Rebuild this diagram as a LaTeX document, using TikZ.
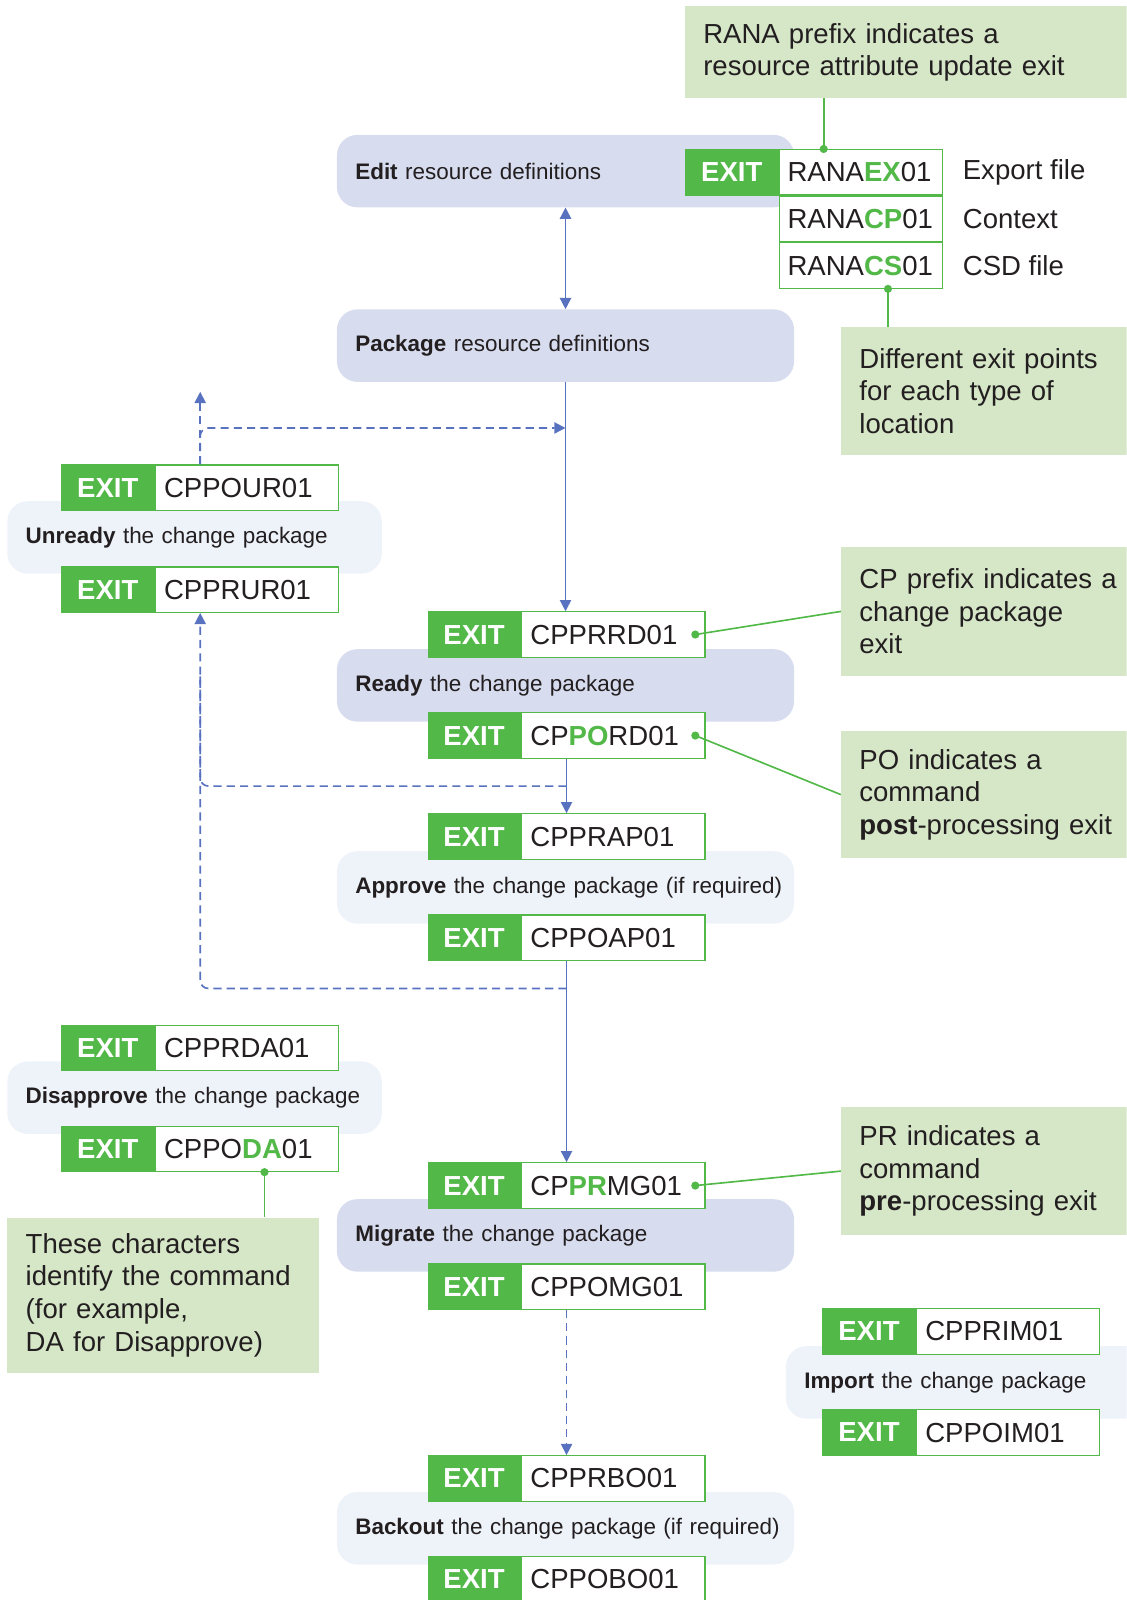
\documentclass[tikz,border=0pt]{standalone}
\usepackage{fontspec}
\setmainfont{Liberation Sans}
\usetikzlibrary{arrows.meta,calc}
\definecolor{exg}{HTML}{52B848}
\definecolor{ng}{HTML}{D6E7C8}
\definecolor{lav}{HTML}{D7DCEE}
\definecolor{lite}{HTML}{EEF2F9}
\definecolor{fb}{HTML}{5872C0}
\definecolor{txt}{HTML}{231F20}
\newcommand\hl[1]{\textcolor{exg}{\bfseries #1}}
\newcommand\exitpair[4]{%
  \node[exitg] (#1E) at (#2,#3) {EXIT};
  \node[exitl] (#1) at (#1E.north east) {#4};
  \coordinate (#1T) at ($(#1E.north west)!.5!(#1.north east)$);
  \coordinate (#1B) at ($(#1E.south west)!.5!(#1.south east)$);
}
\begin{document}
\begin{tikzpicture}[x=1pt,y=-1pt,
  exitg/.style={fill=exg, draw=exg, line width=1.2pt, text=white,
    font=\fontsize{27}{32}\selectfont\bfseries, minimum width=90pt,
    minimum height=44.5pt, inner sep=0pt, anchor=north west},
  exitl/.style={fill=white, draw=exg, line width=1.2pt, text=txt,
    font=\fontsize{27}{32}\selectfont, text width=162pt, inner xsep=9pt,
    inner ysep=0pt, minimum height=44.5pt, align=left, anchor=north west},
  proc/.style={rounded corners=20pt, text=txt, font=\fontsize{22}{26}\selectfont,
    minimum height=71pt, inner xsep=18pt, inner ysep=0pt, align=left,
    anchor=north west, text width=412pt},
  note/.style={fill=ng, text=txt, font=\fontsize{27}{32}\selectfont,
    inner xsep=18pt, inner ysep=0pt, align=left, anchor=north west},
  side/.style={text=txt, font=\fontsize{27}{32}\selectfont, inner sep=0pt, anchor=west},
  flow/.style={draw=fb, line width=1.6pt, arrows={-Triangle[width=11pt,length=11pt]}},
  dflow/.style={draw=fb, line width=1.6pt, dash pattern=on 8pt off 5pt,
    arrows={-Triangle[width=11pt,length=11pt]}},
  plainflow/.style={draw=fb, line width=1.6pt, dash pattern=on 8pt off 5pt},
  gline/.style={draw=exg, line width=1.6pt},
  gdot/.style={fill=exg}
]
\useasboundingbox (0,0) rectangle (1104,1568);
\clip (0,0) rectangle (1104,1568);

% notes
\node[note, text width=417pt, minimum height=90pt] (nTop) at (671,6)
  {RANA prefix indicates a\\resource attribute update exit};
\node[note, text width=264pt, minimum height=126pt] (n2) at (824,320)
  {Different exit points\\for each type of\\location};
\node[note, text width=264pt, minimum height=126pt] (nCP) at (824,536)
  {CP prefix indicates a\\change package\\exit};
\node[note, text width=264pt, minimum height=125pt] (nPO) at (824,716)
  {PO indicates a\\command\\\textbf{post}-processing exit};
\node[note, text width=264pt, minimum height=125pt] (nPR) at (824,1085)
  {PR indicates a\\command\\\textbf{pre}-processing exit};
\node[note, text width=269pt, minimum height=152pt] (nDA) at (7,1193)
  {These characters\\identify the command\\(for example,\\DA for Disapprove)};

% process boxes
\node[proc, fill=lav] (edit) at (330,132) {\mbox{\textbf{Edit} resource definitions}};
\node[proc, fill=lav] (pkg) at (330,303) {\mbox{\textbf{Package} resource definitions}};
\node[proc, fill=lite, text width=331pt] (unready) at (7,491) {\mbox{\textbf{Unready} the change package}};
\node[proc, fill=lav] (ready) at (330,636) {\mbox{\textbf{Ready} the change package}};
\node[proc, fill=lite] (approve) at (330,834) {\mbox{\textbf{Approve} the change package (if required)}};
\node[proc, fill=lite, text width=331pt] (disapprove) at (7,1040) {\mbox{\textbf{Disapprove} the change package}};
\node[proc, fill=lav] (migrate) at (330,1175) {\mbox{\textbf{Migrate} the change package}};
\node[proc, fill=lite, text width=324pt] (imp) at (770,1319) {\mbox{\textbf{Import} the change package}};
\node[proc, fill=lite] (backout) at (330,1462) {\mbox{\textbf{Backout} the change package (if required)}};

% RANA table
\node[exitg, minimum width=91pt] (exE) at (671,146) {EXIT};
\node[exitl, text width=144pt, inner xsep=8pt] (ex) at (exE.north east) {RANA\hl{EX}01};
\node[exitl, text width=144pt, inner xsep=8pt] (cp) at (ex.south west) {RANA\hl{CP}01};
\node[exitl, text width=144pt, inner xsep=8pt] (cs) at (cp.south west) {RANA\hl{CS}01};
\node[side] (lex) at ($(ex.east)+(19,0)$) {Export file};
\node[side] (lcp) at ($(cp.east)+(19,0)$) {Context};
\node[side] (lcs) at ($(cs.east)+(19,0)$) {CSD file};

% exit pairs
\exitpair{our}{60}{455}{CPPOUR01}
\exitpair{rur}{60}{555}{CPPRUR01}
\exitpair{rrd}{419}{599}{CPPRRD01}
\exitpair{ord}{419}{698}{CP\hl{PO}RD01}
\exitpair{rap}{419}{797}{CPPRAP01}
\exitpair{oap}{419}{896}{CPPOAP01}
\exitpair{rda}{60}{1004}{CPPRDA01}
\exitpair{oda}{60}{1103}{CPPO\hl{DA}01}
\exitpair{rmg}{419}{1139}{CP\hl{PR}MG01}
\exitpair{omg}{419}{1238}{CPPOMG01}
\exitpair{rim}{806}{1282}{CPPRIM01}
\exitpair{oim}{806}{1381}{CPPOIM01}
\exitpair{rbo}{419}{1426}{CPPRBO01}
\exitpair{obo}{419}{1525}{CPPOBO01}

% flow connectors
\coordinate (j1) at ($(pkg.south)+(0,45)$);
\coordinate (j2) at ($(ordB)!.5!(rapT)$);
\coordinate (j3) at ($(oapB)+(0,27)$);
\coordinate (upEnd) at ($(ourT)+(0,-71)$);

\draw[flow, arrows={Triangle[width=11pt,length=11pt]-Triangle[width=11pt,length=11pt]}]
  (edit.south) -- (pkg.north);
\draw[flow] (pkg.south) -- (pkg.south |- rrdT);
\draw[flow] (ordB) -- (rapT);
\draw[flow] (oapB) -- (rmgT);
\draw[dflow] (omgB) -- (rboT);

\draw[dflow] (ourT) -- (upEnd);
\draw[dflow, rounded corners=8pt] (ourT) |- (j1);
\draw[dflow, rounded corners=8pt] (j3) -| (rurB);
\draw[plainflow, rounded corners=8pt] (j2) -| ($(rurB)+(0,60)$);

% green callouts
\coordinate (exDot) at ($(ex.north west)+(44,0)$);
\coordinate (csDot) at ($(cs.south west)+(107,0)$);
\coordinate (rrdDot) at ($(rrd.east)+(-10,0)$);
\coordinate (ordDot) at ($(ord.east)+(-10,0)$);
\coordinate (rmgDot) at ($(rmg.east)+(-10,0)$);
\coordinate (odaDot) at ($(oda.south west)+(108,0)$);

\draw[gline] (exDot) -- (exDot |- nTop.south);
\draw[gline] (csDot) -- (csDot |- n2.north);
\draw[gline] (rrdDot) -- (nCP.west);
\draw[gline] (ordDot) -- (nPO.west);
\draw[gline] (rmgDot) -- (nPR.west);
\draw[gline] (odaDot) -- (odaDot |- nDA.north);
\foreach \d in {exDot,csDot,rrdDot,ordDot,rmgDot,odaDot}
  \fill[gdot] (\d) circle (4);
\end{tikzpicture}
\end{document}
